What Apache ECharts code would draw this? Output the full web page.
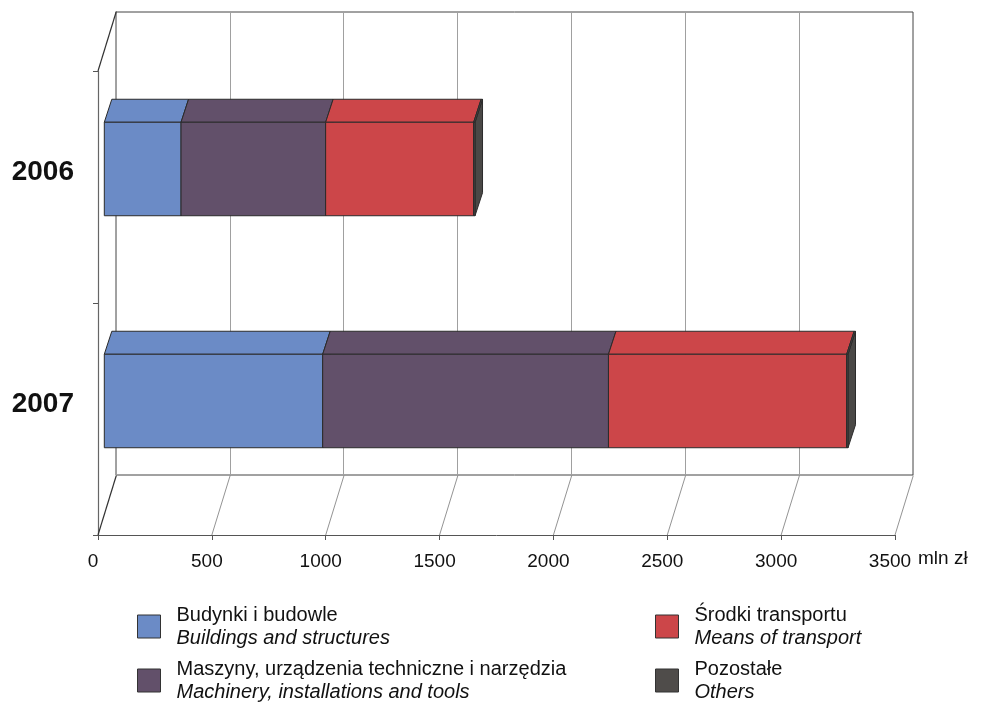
<!DOCTYPE html>
<html>
<head>
<meta charset="utf-8">
<script src="https://cdn.jsdelivr.net/npm/echarts@6/dist/echarts.min.js"></script>
<style>html,body{margin:0;padding:0;background:#fff;}#c{width:981px;height:704px;}</style>
</head>
<body>
<div id="c"></div>
<script>
const years = ['2006', '2007'];
const seriesNames = ['Budynki i budowle', 'Maszyny, urządzenia techniczne i narzędzia', 'Środki transportu', 'Pozostałe'];
const seriesNamesEn = ['Buildings and structures', 'Machinery, installations and tools', 'Means of transport', 'Others'];
const buildings = [337, 959];
const machinery = [635, 1255];
const transport = [650, 1046];
const others = [6, 6];
const xTicks = [0, 500, 1000, 1500, 2000, 2500, 3000, 3500];
const colors = ['#6b8bc6', '#62506a', '#cc4649', '#4f4c4a'];

const values = [buildings, machinery, transport, others];
const FONT = 'Liberation Sans, Arial, sans-serif';

// cumulative stacking
const cum = years.map(() => 0);
const barSeries = values.map((arr, si) => {
  const data = arr.map((v, ci) => {
    const s = cum[ci];
    cum[ci] += v;
    return [s, cum[ci], ci];
  });
  return {
    name: seriesNames[si],
    type: 'custom',
    xAxisIndex: 0, yAxisIndex: 0,
    itemStyle: { color: colors[si] },
    encode: { x: [0, 1], y: 2 },
    data: data,
    silent: true,
    renderItem: function (params, api) {
      const s = api.value(0), e = api.value(1), c = api.value(2);
      const p0 = api.coord([s, c]);
      const p1 = api.coord([e, c]);
      const band = api.size([0, 1])[1];
      const h = band * 0.403;
      const x0 = p0[0] + 6.3, x1 = p1[0] + 6.3;
      const yc = p0[1] - 18;
      const top = yc - h / 2, bot = yc + h / 2;
      const ddx = 7.5, ddy = -23;
      const col = colors[si];
      const st = { fill: col, stroke: '#2b2b2b', lineWidth: 1 };
      return {
        type: 'group',
        children: [
          { type: 'polygon', shape: { points: [[x1, top], [x1 + ddx, top + ddy], [x1 + ddx, bot + ddy], [x1, bot]] }, style: { fill: si === 3 ? '#4a4846' : col, stroke: '#2b2b2b', lineWidth: 1 } },
          { type: 'polygon', shape: { points: [[x0, top], [x1, top], [x1 + ddx, top + ddy], [x0 + ddx, top + ddy]] }, style: st },
          { type: 'rect', shape: { x: x0, y: top, width: x1 - x0, height: h }, style: st }
        ]
      };
    }
  };
});

const floorSeries = {
  type: 'custom',
  xAxisIndex: 0, yAxisIndex: 0,
  silent: true,
  encode: { x: 0, y: 1 },
  data: xTicks.map(v => [v, 1]),
  z: 1,
  renderItem: function (params, api) {
    const v = api.value(0);
    const p = api.coord([v, 1]);
    const band = api.size([0, 1])[1];
    const bottom = p[1] + band / 2;
    const children = [
      { type: 'line', shape: { x1: p[0], y1: bottom, x2: p[0] + 18.3, y2: bottom - 59.5 }, style: { stroke: v === 0 ? '#333' : '#777', lineWidth: v === 0 ? 1.2 : 0.8 } }
    ];
    if (v === 0) {
      const pt = api.coord([0, 0]);
      const topY = pt[1] - band / 2;
      children.push({ type: 'line', shape: { x1: pt[0], y1: topY, x2: pt[0] + 18.3, y2: topY - 59.5 }, style: { stroke: '#333', lineWidth: 1.2 } });
    }
    return { type: 'group', children: children };
  }
};

const legendPos = [[137, 605], [137, 659], [655, 605], [655, 659]];
const legends = seriesNames.map((n, i) => ({
  data: [n],
  left: legendPos[i][0], top: legendPos[i][1],
  padding: 0,
  icon: 'rect',
  itemWidth: 23, itemHeight: 23,
  selectedMode: false,
  itemStyle: { borderColor: '#333', borderWidth: 1 },
  formatter: function (name) { return '{a|' + name + '}\n{b|' + seriesNamesEn[i] + '}'; },
  textStyle: {
    padding: [0, 0, 0, 11],
    rich: {
      a: { fontSize: 20, lineHeight: 23, color: '#111', fontFamily: FONT },
      b: { fontSize: 20, lineHeight: 23, color: '#111', fontStyle: 'italic', fontFamily: FONT }
    }
  }
}));

const option = {
  backgroundColor: '#fff',
  animation: false,
  textStyle: { fontFamily: FONT },
  legend: legends,
  grid: [
    { left: 98, right: 86, top: 71, bottom: 169 },
    { left: 116, right: 68, top: 12, bottom: 229, show: true, borderColor: '#444', borderWidth: 1, backgroundColor: 'transparent' }
  ],
  xAxis: [
    {
      gridIndex: 0, type: 'value', min: 0, max: 3500, interval: 500,
      axisLine: { show: true, lineStyle: { color: '#555', width: 1 } },
      axisTick: { show: true, length: 5, lineStyle: { color: '#555' } },
      splitLine: { show: false },
      axisLabel: { fontSize: 19, color: '#111', margin: 17, padding: [0, 10, 0, 0], fontFamily: FONT, formatter: function (v) { return String(v); } },
      name: '\nmln zł', nameLocation: 'end', nameGap: 23,
      nameTextStyle: { fontSize: 19, color: '#111', fontFamily: FONT, verticalAlign: 'top', lineHeight: 16, align: 'left' }
    },
    {
      gridIndex: 1, type: 'value', min: 0, max: 3500, interval: 500,
      axisLine: { show: false }, axisTick: { show: false }, axisLabel: { show: false },
      splitLine: { show: true, lineStyle: { color: '#a0a0a0', width: 1 } }
    }
  ],
  yAxis: [
    {
      gridIndex: 0, type: 'category', data: years, inverse: true,
      axisLine: { show: true, lineStyle: { color: '#666', width: 1.2 } },
      axisTick: { show: true, length: 5, lineStyle: { color: '#555' } },
      axisLabel: {
        margin: 24,
        formatter: function (v) { return '{y|' + v + '}\n{s| }'; },
        rich: {
          y: { fontSize: 28, fontWeight: 'bold', color: '#111', lineHeight: 30, fontFamily: FONT },
          s: { fontSize: 10, lineHeight: 29 }
        }
      },
      splitLine: { show: false }
    },
    {
      gridIndex: 1, type: 'value', min: 0, max: 1,
      axisLine: { show: false }, axisTick: { show: false }, axisLabel: { show: false }, splitLine: { show: false }
    }
  ],
  series: [floorSeries].concat(barSeries)
};

const chart = echarts.init(document.getElementById('c'));
chart.setOption(option);
</script>
</body>
</html>
